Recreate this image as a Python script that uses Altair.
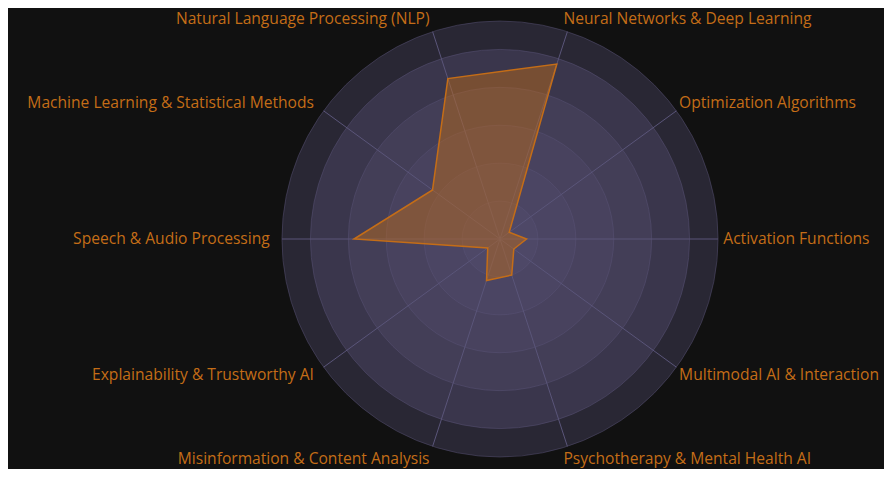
import math
import altair as alt
import pandas as pd

# ---- data ----
categories = [
    "Activation Functions",
    "Optimization Algorithms",
    "Neural Networks & Deep Learning",
    "Natural Language Processing (NLP)",
    "Machine Learning & Statistical Methods",
    "Speech & Audio Processing",
    "Explainability & Trustworthy AI",
    "Misinformation & Content Analysis",
    "Psychotherapy & Mental Health AI",
    "Multimodal AI & Interaction",
]
values = [0.14, 0.06, 0.97, 0.89, 0.44, 0.77, 0.08, 0.23, 0.20, 0.09]
grid_levels = [1.15, 1.0, 0.8, 0.6, 0.4, 0.2]
RADIAL_MAX = 1.15
LABEL_R = 1.22

# ---- style ----
BG = "#111111"
ORANGE = "#c46d17"
ring_colors = ["#292734", "#3a364c", "#433e57", "#48425e", "#4b4563", "#4e4867"]
GRID = "#5a5579"
R_PX = 218
N = len(categories)

df = pd.DataFrame({"cat": categories, "value": values, "idx": list(range(N))})
rings = pd.DataFrame({"level": grid_levels})

xs = alt.Scale(domain=[-RADIAL_MAX, RADIAL_MAX], nice=False, zero=False)
ys = alt.Scale(domain=[-RADIAL_MAX, RADIAL_MAX], nice=False, zero=False)

base = alt.Chart(df).transform_calculate(
    ang=f"datum.idx * 2 * PI / {N}"
)

ring_layer = alt.Chart(rings).mark_arc(
    theta=0, theta2=2 * math.pi, stroke=GRID, strokeWidth=0.8, strokeOpacity=0.6
).encode(
    radius=alt.Radius(
        "level:Q",
        scale=alt.Scale(type="linear", domain=[0, RADIAL_MAX], range=[0, R_PX], zero=True),
        stack=None,
    ),
    color=alt.Color(
        "level:O",
        scale=alt.Scale(domain=grid_levels, range=ring_colors),
        legend=None,
    ),
)

spokes = base.transform_calculate(
    x0="0", y0="0",
    ex=f"{RADIAL_MAX} * cos(datum.ang)",
    ey=f"{RADIAL_MAX} * sin(datum.ang)",
).mark_rule(color=GRID, strokeWidth=1).encode(
    x=alt.X("x0:Q", scale=xs, axis=None),
    y=alt.Y("y0:Q", scale=ys, axis=None),
    x2="ex:Q",
    y2="ey:Q",
)

poly = base.transform_calculate(
    px="datum.value * cos(datum.ang)",
    py="datum.value * sin(datum.ang)",
).mark_line(
    interpolate="linear-closed", stroke=ORANGE, strokeWidth=1.5,
    fill=ORANGE, fillOpacity=0.45,
).encode(
    x=alt.X("px:Q", scale=xs, axis=None),
    y=alt.Y("py:Q", scale=ys, axis=None),
    order=alt.Order("idx:Q"),
)

lab = base.transform_calculate(
    lx=f"{LABEL_R} * cos(datum.ang)",
    ly=f"{LABEL_R} * sin(datum.ang)",
    side="cos(datum.ang) > 0.001 ? 'r' : 'l'",
)

FONT = "Open Sans"
FS = 15.6

labels_right = lab.transform_filter("datum.side == 'r'").mark_text(
    align="left", baseline="middle", color=ORANGE, font=FONT, fontSize=FS, dx=-8
).encode(
    x=alt.X("lx:Q", scale=xs, axis=None),
    y=alt.Y("ly:Q", scale=ys, axis=None),
    text="cat:N",
)
labels_left = lab.transform_filter("datum.side == 'l'").mark_text(
    align="right", baseline="middle", color=ORANGE, font=FONT, fontSize=FS, dx=1
).encode(
    x=alt.X("lx:Q", scale=xs, axis=None),
    y=alt.Y("ly:Q", scale=ys, axis=None),
    text="cat:N",
)

chart = alt.layer(ring_layer, spokes, poly, labels_right, labels_left).properties(
    width=2 * R_PX,
    height=2 * R_PX,
    background=BG,
    autosize=alt.AutoSizeParams(type="none"),
    padding={"left": 274, "top": 13, "right": 166, "bottom": 12},
).configure_view(stroke=None)

chart.save("out.html", embed_options={"renderer": "svg", "actions": False})
